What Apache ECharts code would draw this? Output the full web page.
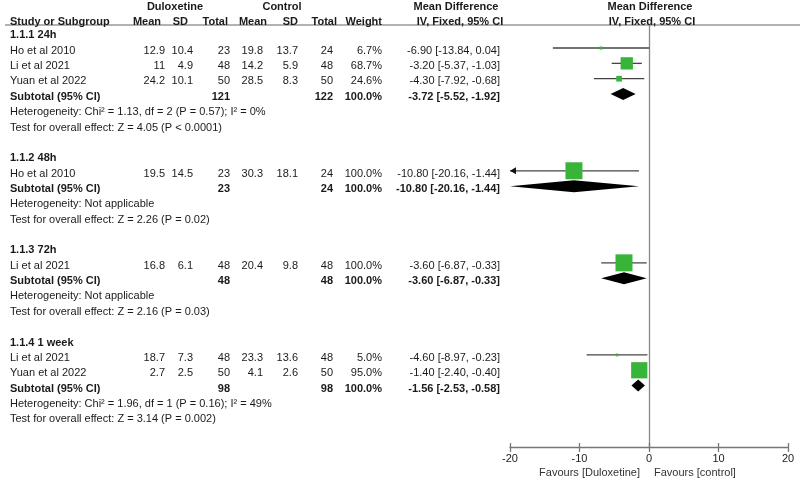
<!DOCTYPE html>
<html>
<head>
<meta charset="utf-8">
<title>Forest plot</title>
<script src="https://cdn.jsdelivr.net/npm/echarts/dist/echarts.min.js"></script>
<style>
  html, body { margin: 0; padding: 0; background: #fff; }
  #main { width: 800px; height: 480px; }
</style>
</head>
<body>
<div id="main"></div>
<script>
// subgroups
var groupTitles = ['1.1.1 24h', '1.1.2 48h', '1.1.3 72h', '1.1.4 1 week'];
// studies (group index of each study)
var studyGroup = [0, 0, 0, 1, 2, 3, 3];
var studyNames = ['Ho et al 2010', 'Li et al 2021', 'Yuan et al 2022', 'Ho et al 2010', 'Li et al 2021', 'Li et al 2021', 'Yuan et al 2022'];
var duloMean = [12.9, 11, 24.2, 19.5, 16.8, 18.7, 2.7];
var duloSD = [10.4, 4.9, 10.1, 14.5, 6.1, 7.3, 2.5];
var duloTotal = [23, 48, 50, 23, 48, 48, 50];
var ctrlMean = [19.8, 14.2, 28.5, 30.3, 20.4, 23.3, 4.1];
var ctrlSD = [13.7, 5.9, 8.3, 18.1, 9.8, 13.6, 2.6];
var ctrlTotal = [24, 48, 50, 24, 48, 48, 50];
var weights = [6.7, 68.7, 24.6, 100.0, 100.0, 5.0, 95.0];
var meanDiff = [-6.90, -3.20, -4.30, -10.80, -3.60, -4.60, -1.40];
var ciLow = [-13.84, -5.37, -7.92, -20.16, -6.87, -8.97, -2.40];
var ciHigh = [0.04, -1.03, -0.68, -1.44, -0.33, -0.23, -0.40];
// subtotals
var subDuloTotal = [121, 23, 48, 98];
var subCtrlTotal = [122, 24, 48, 98];
var subMeanDiff = [-3.72, -10.80, -3.60, -1.56];
var subLow = [-5.52, -20.16, -6.87, -2.53];
var subHigh = [-1.92, -1.44, -0.33, -0.58];
var heterogeneity = [
    'Chi\u00b2 = 1.13, df = 2 (P = 0.57); I\u00b2 = 0%',
    'Not applicable',
    'Not applicable',
    'Chi\u00b2 = 1.96, df = 1 (P = 0.16); I\u00b2 = 49%'
];
var overallEffect = ['Z = 4.05 (P < 0.0001)', 'Z = 2.26 (P = 0.02)', 'Z = 2.16 (P = 0.03)', 'Z = 3.14 (P = 0.002)'];
var xTicks = [-20, -10, 0, 10, 20];

// layout
var FONT = '"Liberation Sans", Arial, sans-serif';
var nameX = 10;
var dataCols = [165, 193, 230, 263, 298, 333, 382];
var headCols = [161, 188, 228, 267, 298, 337, 382];
var mdCol = 500;
var head1 = -1.87, head2 = -0.88;

function ciText(m, l, h) {
    return m.toFixed(2) + ' [' + l.toFixed(2) + ', ' + h.toFixed(2) + ']';
}

var cells = [];     // text cells of the table
var studyMarks = []; // [md, row, lo, hi, weight]
var subMarks = [];   // [md, row, lo, hi]
function cell(x, row, text, align, bold) {
    cells.push({x: x, row: row, text: text, align: align || 'right', bold: !!bold});
}

// header
cell(175, head1, 'Duloxetine', 'center', true);
cell(282, head1, 'Control', 'center', true);
cell(456, head1, 'Mean Difference', 'center', true);
cell(650, head1, 'Mean Difference', 'center', true);
cell(nameX, head2, 'Study or Subgroup', 'left', true);
['Mean', 'SD', 'Total', 'Mean', 'SD', 'Total', 'Weight'].forEach(function (h, i) {
    cell(headCols[i], head2, h, 'right', true);
});
cell(460, head2, 'IV, Fixed, 95% CI', 'center', true);
cell(652, head2, 'IV, Fixed, 95% CI', 'center', true);

var row = 0;
groupTitles.forEach(function (title, g) {
    cell(nameX, row, title, 'left', true);
    row++;
    for (var i = 0; i < studyNames.length; i++) {
        if (studyGroup[i] !== g) continue;
        cell(nameX, row, studyNames[i], 'left');
        var vals = [duloMean[i], duloSD[i], duloTotal[i], ctrlMean[i], ctrlSD[i], ctrlTotal[i], weights[i].toFixed(1) + '%'];
        vals.forEach(function (v, k) { cell(dataCols[k], row, String(v), 'right'); });
        cell(mdCol, row, ciText(meanDiff[i], ciLow[i], ciHigh[i]), 'right');
        studyMarks.push([meanDiff[i], row, ciLow[i], ciHigh[i], weights[i]]);
        row++;
    }
    cell(nameX, row, 'Subtotal (95% CI)', 'left', true);
    cell(dataCols[2], row, String(subDuloTotal[g]), 'right', true);
    cell(dataCols[5], row, String(subCtrlTotal[g]), 'right', true);
    cell(dataCols[6], row, '100.0%', 'right', true);
    cell(mdCol, row, ciText(subMeanDiff[g], subLow[g], subHigh[g]), 'right', true);
    subMarks.push([subMeanDiff[g], row, subLow[g], subHigh[g]]);
    row++;
    cell(nameX, row, 'Heterogeneity: ' + heterogeneity[g], 'left');
    row++;
    cell(nameX, row, 'Test for overall effect: ' + overallEffect[g], 'left');
    row += 2;
});

var xMin = xTicks[0], xMax = xTicks[xTicks.length - 1];

var myChart = echarts.init(document.getElementById('main'));
var option = {
    animation: false,
    backgroundColor: '#fff',
    grid: [
        {left: 0, right: 0, top: 0, bottom: 30},
        {left: 510, right: 12, top: 25, bottom: 33}
    ],
    xAxis: [
        {gridIndex: 0, type: 'value', min: 0, max: 800, show: false},
        {
            gridIndex: 1, type: 'value', min: xMin, max: xMax, interval: 10, position: 'bottom',
            axisLine: {onZero: false, lineStyle: {color: '#777', width: 1.3}},
            axisTick: {show: true, inside: false, length: 5, lineStyle: {color: '#777', width: 1.3}},
            axisLabel: {color: '#1a1a1a', fontSize: 11, fontFamily: FONT, margin: 6},
            splitLine: {show: false}
        },
        {
            gridIndex: 1, type: 'value', min: xMin, max: xMax, interval: 10, position: 'bottom',
            axisLine: {show: false, onZero: false},
            axisTick: {show: true, inside: true, length: 4, lineStyle: {color: '#777', width: 1.3}},
            axisLabel: {show: false},
            splitLine: {show: false}
        }
    ],
    yAxis: [
        {gridIndex: 0, type: 'value', min: -2.3, max: 27, inverse: true, show: false},
        {
            gridIndex: 1, type: 'value', min: -0.5, max: 27, inverse: true,
            axisLine: {show: true, onZero: true, lineStyle: {color: '#888', width: 1.3}},
            axisTick: {show: false}, axisLabel: {show: false}, splitLine: {show: false}
        }
    ],
    graphic: [
        {type: 'line', shape: {x1: 5, y1: 25, x2: 800, y2: 25}, style: {stroke: '#666', lineWidth: 1}},
        {type: 'text', x: 640, y: 473, style: {text: 'Favours [Duloxetine]', align: 'right', verticalAlign: 'middle', font: '11px ' + FONT, fill: '#333'}},
        {type: 'text', x: 654, y: 473, style: {text: 'Favours [control]', align: 'left', verticalAlign: 'middle', font: '11px ' + FONT, fill: '#333'}}
    ],
    series: [
        {
            type: 'custom', name: 'table', xAxisIndex: 0, yAxisIndex: 0, clip: false,
            data: cells.map(function (c) { return [c.x, c.row]; }),
            renderItem: function (params, api) {
                var c = cells[params.dataIndex];
                var p = api.coord([api.value(0), api.value(1)]);
                return {
                    type: 'text', x: p[0], y: p[1],
                    style: {
                        text: c.text, align: c.align, verticalAlign: 'middle',
                        font: (c.bold ? 'bold ' : '') + '11px ' + FONT, fill: '#1a1a1a'
                    }
                };
            }
        },
        {
            type: 'custom', name: 'studies', xAxisIndex: 1, yAxisIndex: 1, clip: false,
            data: studyMarks,
            renderItem: function (params, api) {
                var m = api.value(0), r = api.value(1), lo = api.value(2), hi = api.value(3), w = api.value(4);
                var c = api.coord([m, r]);
                var a = api.coord([Math.max(lo, xMin), r]);
                var b = api.coord([Math.min(hi, xMax), r]);
                var s = 2 + 15 * w / 100;
                var children = [
                    {type: 'line', shape: {x1: a[0], y1: a[1], x2: b[0], y2: b[1]}, style: {stroke: '#444', lineWidth: 1.3}},
                    {type: 'rect', shape: {x: c[0] - s / 2, y: c[1] - s / 2, width: s, height: s}, style: {fill: '#38b438'}}
                ];
                if (lo < xMin) {
                    children.push({type: 'polygon', shape: {points: [[a[0], a[1]], [a[0] + 6, a[1] - 3.5], [a[0] + 6, a[1] + 3.5]]}, style: {fill: '#111'}});
                }
                if (hi > xMax) {
                    children.push({type: 'polygon', shape: {points: [[b[0], b[1]], [b[0] - 6, b[1] - 3.5], [b[0] - 6, b[1] + 3.5]]}, style: {fill: '#111'}});
                }
                return {type: 'group', children: children};
            }
        },
        {
            type: 'custom', name: 'subtotals', xAxisIndex: 1, yAxisIndex: 1, clip: false,
            data: subMarks,
            renderItem: function (params, api) {
                var m = api.value(0), r = api.value(1);
                var c = api.coord([m, r]);
                var a = api.coord([Math.max(api.value(2), xMin), r]);
                var b = api.coord([Math.min(api.value(3), xMax), r]);
                var h = 6;
                return {
                    type: 'polygon',
                    shape: {points: [[a[0], c[1]], [c[0], c[1] - h], [b[0], c[1]], [c[0], c[1] + h]]},
                    style: {fill: '#000'}
                };
            }
        }
    ]
};
myChart.setOption(option);
</script>
</body>
</html>
